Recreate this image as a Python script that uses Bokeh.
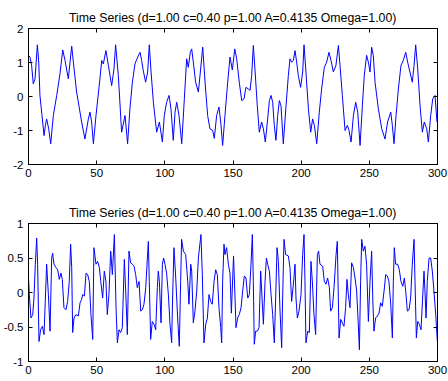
from bokeh.plotting import figure
from bokeh.layouts import column
from bokeh.models import FixedTicker, LinearAxis, Range1d, CustomLabelingPolicy
from bokeh.embed import file_html
from bokeh.resources import INLINE

title_text = "Time Series (d=1.00 c=0.40 p=1.00 A=0.4135 Omega=1.00)"
x_ticks = [0, 50, 100, 150, 200, 250, 300]
x_tick_labels = ["0", "50", "100", "150", "200", "250", "300"]
top_y_ticks = [-2, -1, 0, 1, 2]
top_y_labels = ["-2", "-1", "0", "1", "2"]
bottom_y_ticks = [-1, -0.5, 0, 0.5, 1]
bottom_y_labels = ["-1", "-0.5", "0", "0.5", "1"]

top_time = [0.0, 1.1, 2.3, 3.5, 4.8, 6.5, 7.5, 8.4, 9.9, 11.4, 12.4, 13.3, 14.8, 16.3, 18.2, 20.7, 23.1, 25.1, 26.8, 29.2,
            31.7, 32.9, 35.3, 39.0, 41.4, 43.9, 45.1, 46.3, 47.6, 49.5, 52.4, 53.7, 54.9, 56.8, 58.6, 61.0, 62.7, 63.9, 65.9, 68.3,
            70.8, 72.7, 74.4, 76.2, 78.1, 80.1, 81.8, 83.0, 84.2, 85.9, 87.4, 88.6, 89.9, 91.6, 94.0, 96.0, 98.2, 99.6, 101.3, 103.1,
            104.5, 106.2, 107.5, 108.7, 110.4, 112.4, 114.3, 116.0, 117.2, 118.7, 119.7, 120.9, 122.6, 124.6, 125.8, 127.8, 129.5, 131.4, 133.1, 135.1,
            136.3, 138.0, 139.7, 141.0, 142.4, 144.1, 146.1, 147.8, 149.5, 151.3, 152.7, 154.6, 156.4, 158.1, 159.5, 161.3, 162.5, 163.7, 164.9, 166.1,
            167.8, 169.3, 171.0, 172.3, 173.7, 175.2, 176.7, 177.9, 179.1, 180.3, 181.5, 182.8, 184.0, 185.2, 186.9, 188.9, 190.6, 191.8, 193.0, 194.3,
            195.5, 196.7, 197.9, 199.6, 201.1, 202.1, 203.5, 205.3, 207.0, 208.4, 209.7, 211.4, 213.3, 215.0, 217.0, 218.7, 220.4, 221.9, 223.6, 225.5,
            227.3, 228.5, 230.2, 232.2, 233.9, 235.1, 236.6, 238.3, 240.0, 241.5, 243.2, 244.9, 246.3, 248.0, 249.3, 250.5, 251.7, 252.9, 254.2, 256.6,
            259.1, 261.5, 263.4, 265.7, 266.9, 268.1, 269.6, 271.3, 273.2, 274.9, 276.7, 278.1, 279.8, 281.5, 282.8, 284.0, 285.5, 287.2, 288.9, 290.3,
            292.1, 293.3, 295.0, 296.5, 298.2, 299.6]
top_value = [1.21, 1.16, 0.91, 0.37, 0.52, 1.52, 1.01, 0.03, -0.56, -1.15, -0.85, -0.66, -0.95, -1.39, -0.56, 0.03, 0.67, 1.37, 1.06, 0.52,
             1.48, 1.01, 0.13, -0.75, -1.25, -0.66, -0.46, -0.75, -1.39, -0.56, 0.52, 1.06, 0.96, 1.35, 0.91, 0.32, 0.81, 1.52, 0.62, -1.05,
             -0.56, -1.39, -0.36, 0.42, 0.96, 1.16, 1.30, 1.06, 0.76, 0.42, 0.72, 1.52, 0.72, -0.17, -1.05, -0.75, -1.34, -0.56, -0.17, 0.03,
             -0.36, -1.29, -0.46, -0.17, -0.56, -1.39, -0.07, 1.11, 0.86, 1.30, 1.40, 1.01, 0.42, 0.13, 0.62, 1.45, 0.42, -0.56, -0.95, -1.00,
             -1.23, -0.56, -0.31, -0.75, -1.44, -0.56, 0.42, 1.16, 0.78, 1.40, 1.11, 0.42, -0.12, -0.07, 0.27, 0.22, 0.18, 0.62, 1.50, 0.81,
             -0.27, -1.05, -0.75, -0.95, -1.34, -0.75, -0.12, 0.03, -0.17, -0.85, -1.29, -0.56, -0.12, -0.27, -1.39, -0.27, 0.62, 1.11, 1.01, 1.06,
             1.35, 1.01, 0.62, 0.27, 0.72, 1.52, 0.72, -0.36, -1.05, -0.66, -0.85, -1.39, -0.46, 0.22, 0.86, 1.01, 1.30, 1.06, 0.72, 0.91,
             1.50, 0.91, 0.03, -1.00, -0.85, -1.00, -1.34, -0.56, -0.17, -0.46, -1.44, -0.27, 0.62, 1.21, 1.01, 0.72, 1.45, 1.21, 0.42, -0.36,
             -0.95, -1.25, -0.75, -0.46, -0.85, -1.39, -0.56, 0.22, 0.91, 1.06, 1.30, 1.01, 0.72, 0.42, 0.91, 1.52, 0.81, -0.27, -1.05, -0.75,
             -0.95, -1.34, -0.56, -0.07, 0.03, -0.75]

bottom_time = [0.0, 0.6, 1.8, 3.1, 4.0, 5.0, 6.0, 6.7, 7.7, 8.9, 10.2, 11.4, 12.4, 13.3, 14.6, 15.8, 17.0, 17.7, 18.7, 20.2,
               21.4, 22.6, 23.8, 24.8, 26.0, 27.5, 28.7, 29.9, 30.9, 31.7, 32.4, 33.4, 34.8, 36.6, 37.8, 39.0, 39.7, 41.0, 42.2, 43.4,
               44.6, 45.8, 47.1, 48.0, 49.5, 50.7, 52.0, 53.0, 54.4, 55.6, 56.8, 57.8, 59.0, 60.3, 61.5, 63.0, 64.2, 65.2, 66.4, 67.6,
               68.8, 70.3, 71.5, 72.5, 73.7, 74.9, 76.2, 77.4, 78.6, 79.8, 81.1, 82.3, 83.5, 84.7, 86.0, 87.2, 87.9, 88.6, 89.6, 90.8,
               92.1, 93.3, 94.5, 95.2, 96.0, 97.2, 98.2, 99.1, 100.1, 101.3, 102.6, 103.8, 105.0, 105.7, 106.7, 108.0, 109.4, 110.6, 111.6, 112.3,
               113.6, 115.3, 116.8, 117.7, 119.0, 119.7, 120.9, 122.1, 123.4, 124.6, 126.5, 127.5, 128.7, 130.0, 131.2, 132.4, 133.6, 134.8, 136.1, 137.3,
               138.5, 139.7, 141.0, 141.7, 142.4, 143.4, 144.1, 145.3, 146.6, 147.8, 148.8, 150.4, 151.5, 152.2, 153.4, 154.6, 155.9, 157.1, 158.3, 159.5,
               160.8, 162.0, 163.2, 164.2, 164.9, 165.6, 166.6, 167.9, 169.1, 170.3, 171.3, 172.3, 173.5, 174.5, 175.4, 176.7, 177.9, 179.1, 180.3, 181.3,
               182.3, 183.3, 184.5, 185.7, 186.4, 187.4, 188.6, 190.6, 191.8, 193.0, 194.3, 195.5, 196.2, 197.2, 198.4, 199.9, 201.1, 202.1, 202.8, 203.5,
               204.8, 206.0, 207.2, 208.2, 209.4, 210.6, 211.9, 212.8, 213.8, 215.8, 217.0, 218.2, 219.4, 220.7, 221.6, 222.9, 224.1, 225.6, 226.5, 227.8,
               229.0, 230.2, 231.4, 232.6, 233.6, 234.6, 235.8, 237.0, 238.3, 239.5, 240.7, 241.9, 242.7, 243.6, 244.4, 245.6, 246.8, 248.0, 249.3, 250.5,
               251.7, 252.5, 253.4, 254.6, 255.9, 257.1, 258.3, 259.5, 260.8, 262.0, 263.2, 264.4, 265.7, 266.9, 267.6, 268.3, 269.3, 270.8, 272.0, 273.2,
               274.5, 275.7, 276.7, 277.9, 279.1, 280.3, 281.5, 282.8, 283.5, 284.5, 285.5, 286.7, 287.9, 289.1, 290.1, 290.8, 291.6, 292.5, 293.8, 295.0,
               296.2, 297.4, 298.7, 299.9]
bottom_value = [0.21, -0.03, -0.37, -0.32, -0.08, 0.41, 0.79, 0.41, -0.71, -0.54, -0.49, -0.61, -0.08, 0.41, -0.03, -0.56, 0.50, 0.57, 0.41, 0.36,
                0.33, 0.19, 0.28, 0.19, -0.22, -0.25, -0.13, 0.16, 0.70, 0.36, -0.58, -0.37, -0.32, -0.34, -0.15, -0.10, -0.03, -0.05, 0.28, 0.26,
                0.16, -0.32, -0.68, 0.65, 0.41, 0.45, 0.36, 0.16, -0.08, 0.31, 0.16, -0.32, -0.03, 0.60, 0.26, 0.84, -0.22, -0.73, -0.54, -0.58,
                -0.51, 0.48, -0.08, -0.61, 0.60, 0.43, 0.41, 0.38, 0.26, 0.07, 0.16, -0.27, -0.25, -0.17, 0.07, 0.50, 0.74, 0.16, -0.68, -0.42,
                -0.46, -0.54, 0.07, 0.31, 0.16, -0.44, 0.41, 0.50, 0.41, 0.28, -0.03, -0.46, -0.73, -0.08, 0.65, 0.21, -0.37, -0.78, 0.16, 0.77,
                0.60, 0.55, 0.16, -0.17, 0.41, 0.31, -0.44, -0.27, 0.02, 0.50, 0.84, 0.26, -0.73, -0.46, -0.37, -0.03, -0.13, -0.17, 0.16, 0.33,
                0.26, -0.22, -0.51, -0.73, 0.16, 0.70, 0.55, 0.65, 0.41, 0.28, -0.30, 0.53, -0.08, -0.51, -0.37, -0.32, -0.22, 0.02, 0.24, 0.21,
                -0.08, -0.03, 0.41, 0.84, 0.16, -0.75, -0.56, -0.56, -0.51, 0.31, -0.08, -0.46, 0.16, 0.50, 0.41, 0.31, -0.03, -0.32, -0.73, -0.08,
                0.65, 0.45, -0.27, -0.80, -0.08, 0.77, 0.55, 0.53, 0.36, -0.13, 0.12, 0.41, -0.08, -0.37, -0.27, -0.03, 0.55, 0.84, 0.16, -0.73,
                -0.56, -0.58, 0.45, 0.16, -0.32, -0.61, 0.55, 0.60, 0.41, 0.38, 0.16, 0.12, 0.21, 0.07, -0.27, -0.22, 0.07, 0.55, 0.74, -0.66,
                -0.39, -0.44, -0.49, -0.22, 0.19, -0.03, -0.22, 0.43, 0.36, 0.21, 0.02, -0.46, -0.83, 0.16, 0.77, 0.60, 0.67, 0.41, -0.42, 0.16,
                0.60, -0.08, -0.56, -0.37, -0.34, -0.30, -0.15, -0.20, 0.02, 0.26, 0.24, 0.16, -0.17, -0.66, 0.16, 0.65, 0.41, 0.41, 0.33, 0.16,
                0.09, 0.21, 0.02, -0.27, -0.25, -0.08, 0.41, 0.77, 0.16, -0.66, -0.42, -0.46, -0.54, -0.08, 0.31, 0.02, -0.37, 0.16, 0.50, 0.50,
                0.31, 0.02, -0.32, -0.71]

FONT = "Liberation Sans"

NO_LABELS = "for (let i = 0; i < indices.size; i++) { indices.unset(i) }\nreturn indices"


def style_axis(ax, labels_visible=True):
    ax.axis_line_color = "black"
    ax.axis_line_width = 1
    ax.major_tick_line_color = "black"
    ax.major_tick_in = 4
    ax.major_tick_out = 0
    ax.minor_tick_line_color = None
    ax.major_label_text_font = FONT
    ax.major_label_text_color = "black"
    if labels_visible:
        ax.major_label_text_font_size = "11.5px"
        ax.major_label_standoff = 4
    else:
        ax.major_label_text_font_size = "0px"
        ax.major_label_standoff = 0
        ax.major_label_policy = CustomLabelingPolicy(code=NO_LABELS)


def make_fig(t, v, y_lo, y_hi, yticks, ylabels, height, top, bottom, title_gap):
    p = figure(width=448, height=height, output_backend="svg", toolbar_location=None,
               x_range=Range1d(0, 300), y_range=Range1d(y_lo, y_hi),
               min_border_left=28, min_border_right=11, min_border_top=top, min_border_bottom=bottom,
               title=title_text)
    p.title.text_font = FONT
    p.title.text_font_size = "12.3px"
    p.title.text_font_style = "normal"
    p.title.text_color = "black"
    p.title.align = "center"
    p.title.standoff = title_gap
    p.xgrid.visible = False
    p.ygrid.visible = False
    p.outline_line_color = "black"
    p.outline_line_alpha = 1
    p.background_fill_color = "white"
    p.border_fill_color = "white"

    p.xaxis.ticker = FixedTicker(ticks=x_ticks)
    p.xaxis.major_label_overrides = {k: s for k, s in zip(x_ticks, x_tick_labels)}
    p.yaxis.ticker = FixedTicker(ticks=yticks)
    p.yaxis.major_label_overrides = {k: s for k, s in zip(yticks, ylabels)}
    style_axis(p.xaxis[0])
    style_axis(p.yaxis[0])
    p.yaxis.major_label_standoff = 5

    ra = LinearAxis(ticker=FixedTicker(ticks=yticks))
    style_axis(ra, labels_visible=False)
    p.add_layout(ra, "right")
    ta = LinearAxis(ticker=FixedTicker(ticks=x_ticks))
    style_axis(ta, labels_visible=False)
    p.add_layout(ta, "above")

    p.line(t, v, line_color="#0000ff", line_width=1)
    return p


p1 = make_fig(top_time, top_value, -2, 2, top_y_ticks, top_y_labels, 196, 28, 32, 8)
p2 = make_fig(bottom_time, bottom_value, -1, 1, bottom_y_ticks, bottom_y_labels, 185, 27, 20, 7)

layout = column(p1, p2, spacing=0)
open("out.html", "w").write(file_html(layout, INLINE))
